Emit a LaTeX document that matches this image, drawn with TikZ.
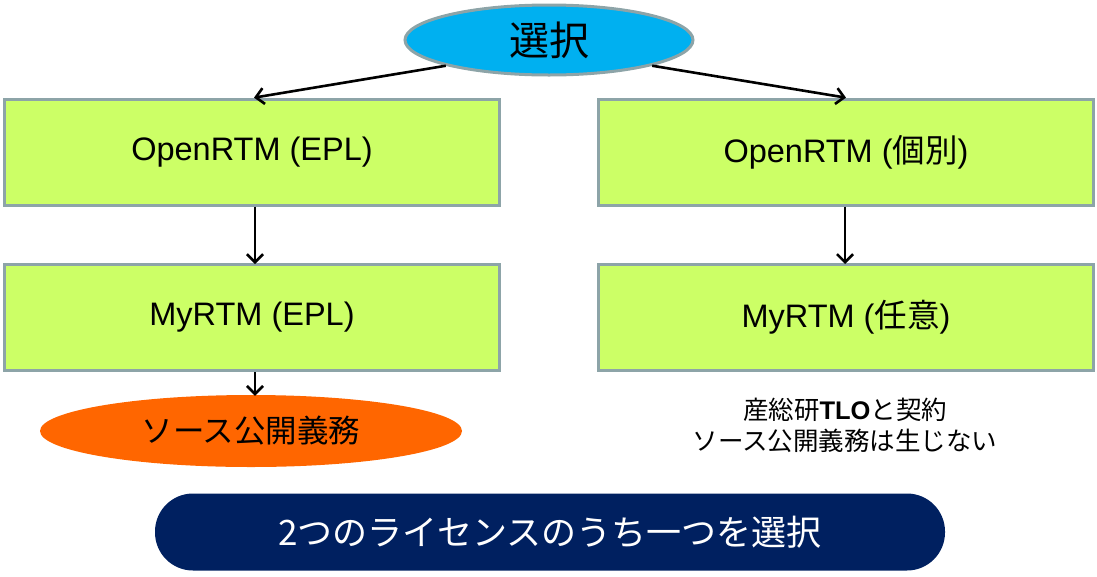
\documentclass[tikz,border=0pt]{standalone}
\usepackage{fontspec}
\setmainfont{Liberation Sans}
\newfontfamily\jp{Noto Sans CJK JP}
\usetikzlibrary{shapes.geometric,arrows.meta}
\definecolor{bgray}{RGB}{141,164,168}
\definecolor{lgreen}{RGB}{204,255,102}
\definecolor{skyblue}{RGB}{0,176,240}
\definecolor{orng}{RGB}{255,102,0}
\definecolor{navy}{RGB}{0,32,96}
\tikzset{
  lbox/.style={draw=bgray,line width=3pt,fill=lgreen,minimum width=495pt,minimum height=106pt,inner sep=0pt,font=\fontsize{32.5}{38}\selectfont},
  arr/.style={line width=2.6pt,-{Straight Barb[length=8pt,width=16pt,line width=2.6pt]},shorten >=-1pt},
}
\begin{document}
\begin{tikzpicture}[x=1pt,y=-1pt]
\useasboundingbox (0,0) rectangle (1097,576);
\node[ellipse,draw=bgray,line width=3pt,fill=skyblue,minimum width=288pt,minimum height=70pt,inner sep=0pt,font=\jp\fontsize{40}{44}\selectfont] (sel) at (549,40) {選択};
\node[lbox] (b1) at (252,152) {OpenRTM (EPL)};
\node[lbox] (b2) at (252,317.5) {MyRTM (EPL)};
\node[lbox] (b3) at (846,152) {OpenRTM ({\jp 個別})};
\node[lbox] (b4) at (846,317.5) {MyRTM ({\jp 任意})};
\node[ellipse,fill=orng,minimum width=422pt,minimum height=72pt,inner sep=0pt,font=\jp\fontsize{31.5}{36}\selectfont] (src) at (251,431) {ソース公開義務};
\node[align=center,font=\jp\fontsize{25.5}{31}\selectfont] (note) at (845,425) {産総研{\rmfamily\bfseries TLO}と契約\\ソース公開義務は生じない};
\node[rectangle,rounded corners=38pt,fill=navy,minimum width=790pt,minimum height=77pt,inner sep=0pt,text=white,font=\jp\fontsize{35}{40}\selectfont] (ban) at (550,532) {2つのライセンスのうち一つを選択};
\draw[arr] (sel.194) -- ([xshift=3pt]b1.north);
\draw[arr] (sel.-14) -- ([xshift=-1pt]b3.north);
\draw[arr] ([xshift=3pt]b1.south) -- ([xshift=3pt]b2.north);
\draw[arr] ([xshift=-1pt]b3.south) -- ([xshift=-1pt]b4.north);
\draw[arr] ([xshift=3pt]b2.south) -- ([xshift=4pt]src.north);
\end{tikzpicture}
\end{document}
